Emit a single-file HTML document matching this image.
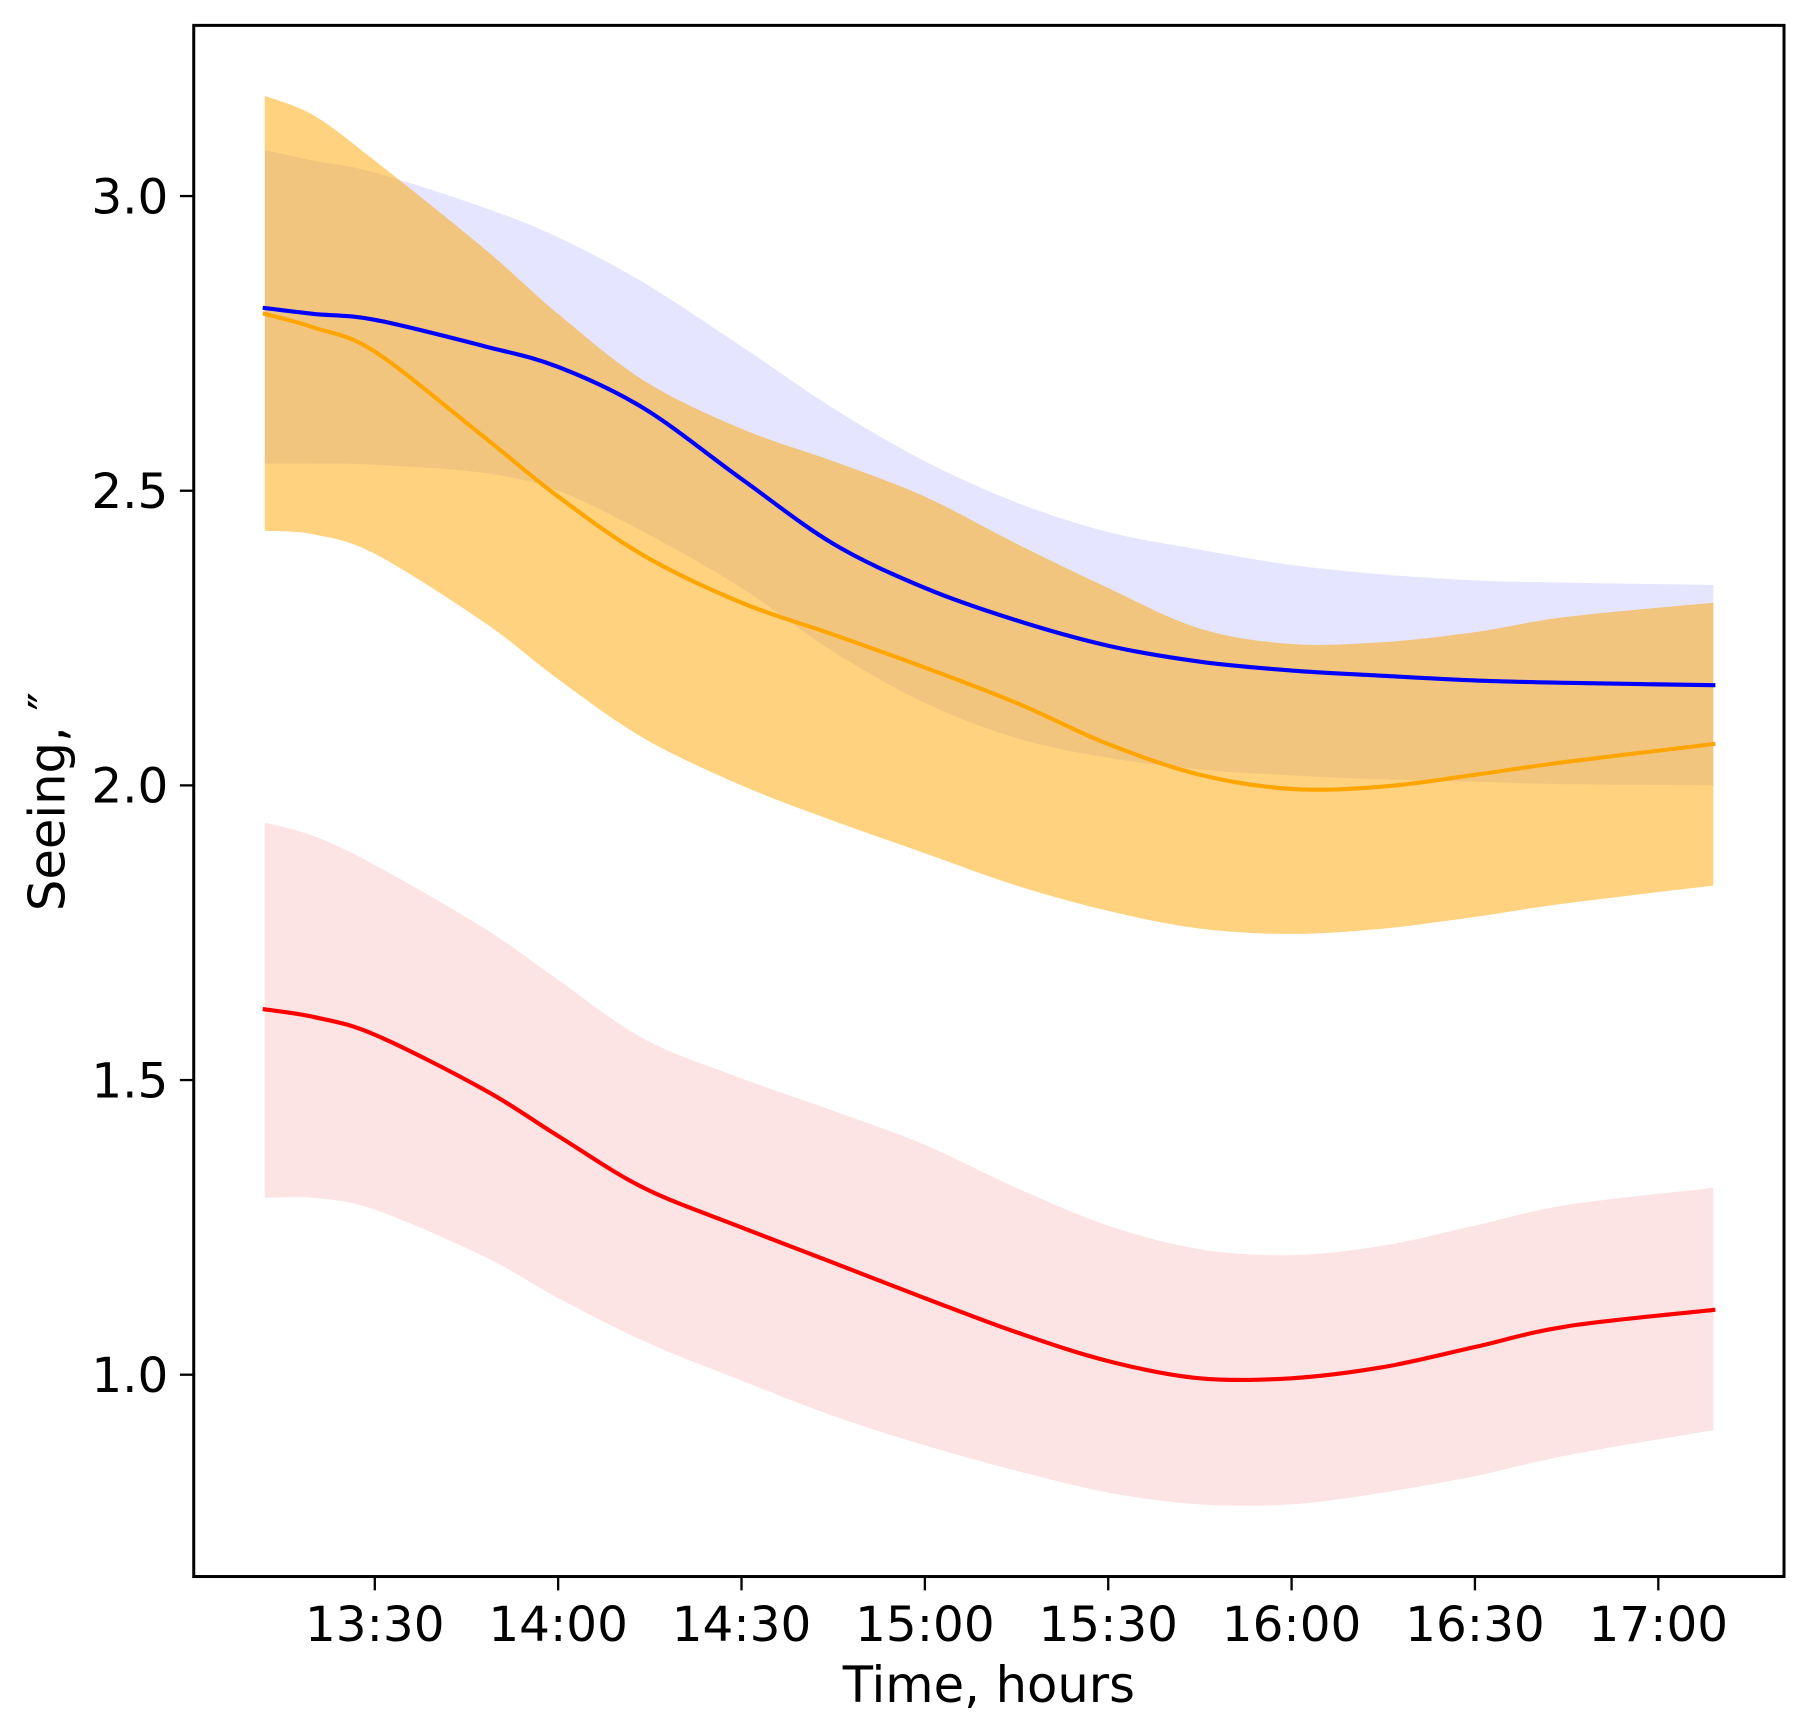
<!DOCTYPE html>
<html><head><meta charset="utf-8"><style>
html,body{margin:0;padding:0;background:#fff;}
svg{display:block;font-family:"DejaVu Sans","Liberation Sans",sans-serif;}
</style></head><body>
<svg id="chart" width="1799" height="1723" viewBox="0 0 1560 1494" preserveAspectRatio="none" xmlns="http://www.w3.org/2000/svg">
<g id="plot"></g>
<g id="axes"></g>
</svg>
<script>
// time in minutes after 13:00
const times = [12,20,30,48,60,74,90,105,120,135,150,165,180,195,210,225,249];
const blueLine = [2.81,2.80,2.79,2.745,2.71,2.64,2.52,2.41,2.335,2.28,2.237,2.21,2.195,2.186,2.178,2.174,2.17];
const blueUpper = [3.078,3.06,3.04,2.98,2.93,2.853,2.745,2.64,2.55,2.48,2.43,2.40,2.374,2.358,2.348,2.344,2.34];
const blueLower = [2.546,2.546,2.544,2.53,2.50,2.43,2.335,2.227,2.14,2.08,2.047,2.027,2.017,2.01,2.006,2.002,2.0];
const orangeLine = [2.80,2.777,2.736,2.59,2.49,2.39,2.31,2.256,2.2,2.14,2.07,2.018,1.994,1.998,2.018,2.04,2.07];
const orangeUpper = [3.17,3.137,3.06,2.91,2.80,2.687,2.605,2.55,2.49,2.41,2.335,2.266,2.24,2.243,2.26,2.286,2.31];
const orangeLower = [2.432,2.426,2.393,2.276,2.18,2.08,2.0,1.94,1.885,1.83,1.787,1.757,1.748,1.757,1.777,1.80,1.83];
const redLine = [1.62,1.607,1.577,1.483,1.405,1.317,1.25,1.19,1.13,1.072,1.023,0.994,0.994,1.013,1.047,1.082,1.11];
const redUpper = [1.937,1.914,1.865,1.757,1.67,1.57,1.503,1.448,1.39,1.317,1.253,1.213,1.203,1.219,1.253,1.288,1.317];
const redLower = [1.30,1.30,1.28,1.2,1.13,1.057,0.99,0.93,0.88,0.837,0.80,0.78,0.78,0.80,0.828,0.863,0.906];
const xTickMinutes = [30,60,90,120,150,180,210,240];
const xTickLabels = ["13:30","14:00","14:30","15:00","15:30","16:00","16:30","17:00"];
const yTicks = [1.0,1.5,2.0,2.5,3.0];
const yTickLabels = ["1.0","1.5","2.0","2.5","3.0"];

const NS = "http://www.w3.org/2000/svg";
const L = 168, R = 1547, T = 22, B = 1367;
function xs(t){ return 325 + (t - 30) * (159/30); }
function ys(v){ return 170 + (3.0 - v) * 511; }
const plot = document.getElementById('plot');
const axes = document.getElementById('axes');
function mk(tag, attrs, parent){ const e = document.createElementNS(NS, tag); for (const k in attrs) e.setAttribute(k, attrs[k]); parent.appendChild(e); return e; }

// smooth path through points (Catmull-Rom -> cubic bezier)
function smooth(pts, move){
  let d = (move ? 'M' : 'L') + pts[0][0].toFixed(1) + ',' + pts[0][1].toFixed(1);
  for (let i = 0; i < pts.length - 1; i++){
    const p0 = pts[Math.max(i-1,0)], p1 = pts[i], p2 = pts[i+1], p3 = pts[Math.min(i+2, pts.length-1)];
    const c1x = p1[0] + (p2[0]-p0[0])/6, c1y = p1[1] + (p2[1]-p0[1])/6;
    const c2x = p2[0] - (p3[0]-p1[0])/6, c2y = p2[1] - (p3[1]-p1[1])/6;
    d += ' C' + c1x.toFixed(1)+','+c1y.toFixed(1)+' '+c2x.toFixed(1)+','+c2y.toFixed(1)+' '+p2[0].toFixed(1)+','+p2[1].toFixed(1);
  }
  return d;
}
function band(up, lo, fill, name){
  const top = times.map((t,i)=>[xs(t), ys(up[i])]);
  const bot = times.map((t,i)=>[xs(t), ys(lo[i])]).reverse();
  const d = smooth(top, true) + ' ' + smooth(bot, false) + ' Z';
  const p = mk('path', {d: d, fill: fill, stroke: 'none'}, plot);
  
  
}
function line(vals, color, name){
  const pts = times.map((t,i)=>[xs(t), ys(vals[i])]);
  const p = mk('path', {d: smooth(pts, true), fill: 'none', stroke: color, 'stroke-width': 3.6, 'stroke-linejoin': 'round', 'stroke-linecap': 'square'}, plot);
  
  
}
band(blueUpper, blueLower, '#e5e5ff', 'blue-band');
band(orangeUpper, orangeLower, 'rgba(255,165,0,0.5)', 'orange-band');
band(redUpper, redLower, '#fde4e4', 'red-band');
line(redLine, '#ff0000', 'red-line');
line(orangeLine, '#ffa500', 'orange-line');
line(blueLine, '#0000ff', 'blue-line');

const frame = mk('rect', {x: L, y: T, width: R-L, height: B-T, fill: 'none', stroke: '#000', 'stroke-width': 2.6}, axes);



xTickMinutes.forEach((t,i)=>{
  const x = xs(t);
  const tk = mk('line', {x1: x, x2: x, y1: B, y2: B+12, stroke: '#000', 'stroke-width': 2}, axes);
  
  
  const tx = mk('text', {x: x, y: B+56, 'text-anchor': 'middle', 'font-size': 42, fill: '#000'}, axes);
  tx.textContent = xTickLabels[i];
  
  
});
yTicks.forEach((v,i)=>{
  const y = ys(v);
  const tk = mk('line', {x1: L-12, x2: L, y1: y, y2: y, stroke: '#000', 'stroke-width': 2}, axes);
  
  
  const tx = mk('text', {x: L-22, y: y+15, 'text-anchor': 'end', 'font-size': 42, fill: '#000'}, axes);
  tx.textContent = yTickLabels[i];
  
  
});
const xt = mk('text', {x: (L+R)/2, y: 1476, 'text-anchor': 'middle', 'font-size': 43, fill: '#000'}, axes);
xt.textContent = 'Time, hours';


const yt = mk('text', {x: 0, y: 0, 'text-anchor': 'middle', 'font-size': 43, fill: '#000', transform: 'translate(56,695) rotate(-90)'}, axes);
yt.textContent = 'Seeing, ″';


</script>
</body></html>
